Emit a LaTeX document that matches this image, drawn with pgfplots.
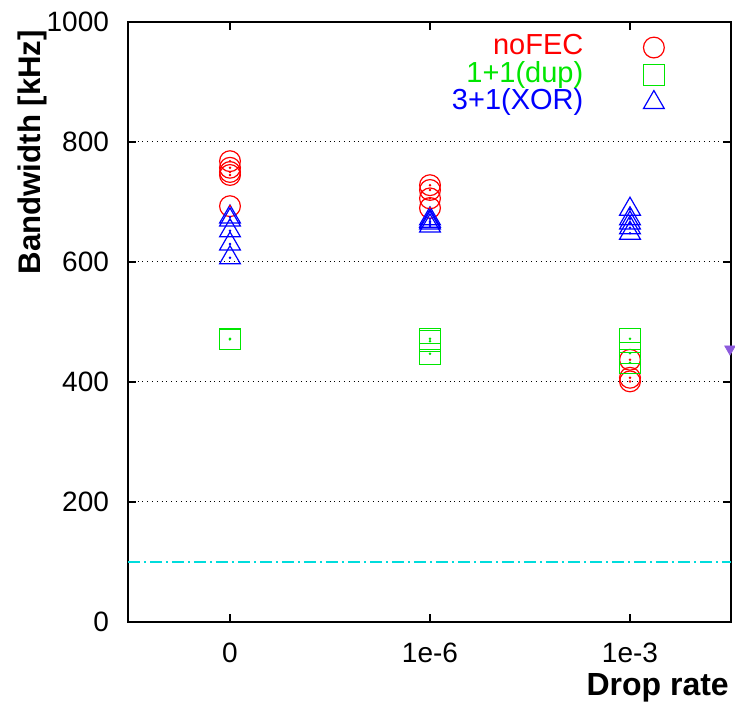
\documentclass[border=0pt]{standalone}
\usepackage{pgfplots}
\usepackage{pgfplotstable}
\pgfplotsset{compat=1.18}
\usepackage{fontspec}
\setmainfont{Liberation Sans}
\definecolor{cgreen}{RGB}{0,230,0}
\definecolor{cpurple}{RGB}{140,90,220}
\definecolor{ccyan}{RGB}{0,220,220}

\pgfplotstableread{
x y
0 768
0 757
0 750
0 745
0 693
1 728
1 720
1 706
1 690
2 437
2 407
2 401
}\nofec
\pgfplotstableread{
x y
0 472
0 471
1 472
1 468
1 447
2 472
2 448
2 432
}\dup
\pgfplotstableread{
x y
0 675
0 670
0 652
0 630
0 607
1 672
1 668
1 665
1 660
2 688
2 672
2 665
2 657
2 648
}\xor

\begin{document}
\begin{tikzpicture}
\path[use as bounding box] (-64pt,-41pt) rectangle (303.5pt,311pt);
\begin{axis}[
  scale only axis,
  width=301.5pt, height=300pt,
  at={(0,0)}, anchor=south west,
  xmin=-0.51, xmax=2.505,
  ymin=0, ymax=1000,
  xtick={0,1,2},
  xticklabels={0,1e-6,1e-3},
  ytick={0,200,400,600,800,1000},
  tick align=inside,
  xtick pos=both, ytick pos=both,
  major tick length=4pt,
  ymajorgrids,
  major grid style={black, dotted, line width=0.5pt},
  axis line style={line width=0.6pt},
  tick style={line width=0.6pt, black},
  /pgf/number format/assume math mode=true,
  /pgf/number format/1000 sep={},
  tick label style={font=\fontsize{14}{16}\selectfont},
  yticklabel style={xshift=-6pt},
  xticklabel style={yshift=-7pt},
  xlabel={\bfseries Drop rate},
  ylabel={\bfseries Bandwidth [kHz]},
  xlabel style={at={(rel axis cs:0.997,-0.11)}, anchor=east, inner sep=0pt, font=\fontsize{16}{19}\selectfont},
  ylabel style={at={(rel axis cs:-0.158,0.783)}, anchor=center, font=\fontsize{15.6}{19}\selectfont},
  legend style={draw=none, fill=none, at={(rel axis cs:0.897,0.981)}, anchor=north east,
    font=\fontsize{14.5}{17}\selectfont, row sep=0pt, column sep=0pt, inner sep=0pt,
    nodes={inner sep=0pt, text height=10.5pt, text depth=3.25pt}},
  legend cell align=right,
  legend plot pos=right,
  legend image code/.code={\path (0pt,0pt) (42pt,0pt); \draw[#1] plot coordinates {(35pt,0pt)};},
]
\addplot[only marks, mark=o, mark size=5.2pt, red, line width=0.6pt] table {\nofec};
\addlegendentry{\textcolor{red}{noFEC}}
\addplot[only marks, mark=square, mark size=5.2pt, cgreen, line width=0.6pt] table {\dup};
\addlegendentry{\textcolor{cgreen}{1+1(dup)}}
\addplot[only marks, mark=triangle, mark size=6pt, blue, line width=0.6pt] table {\xor};
\addlegendentry{\textcolor{blue}{3+1(XOR)}}
\addplot[only marks, mark=*, mark size=0.4pt, red, forget plot] table {\nofec};
\addplot[only marks, mark=*, mark size=0.4pt, cgreen, forget plot] table {\dup};
\addplot[only marks, mark=*, mark size=0.4pt, blue, forget plot] table {\xor};
\addplot[ccyan, line width=0.7pt, dash pattern=on 6pt off 2pt on 1pt off 2pt, forget plot] coordinates {(-0.51,100) (2.505,100)};
\addplot[only marks, mark=triangle*, mark size=3pt, cpurple, mark options={rotate=180}, forget plot] coordinates {(2.5,455)};
\end{axis}
\end{tikzpicture}
\end{document}
